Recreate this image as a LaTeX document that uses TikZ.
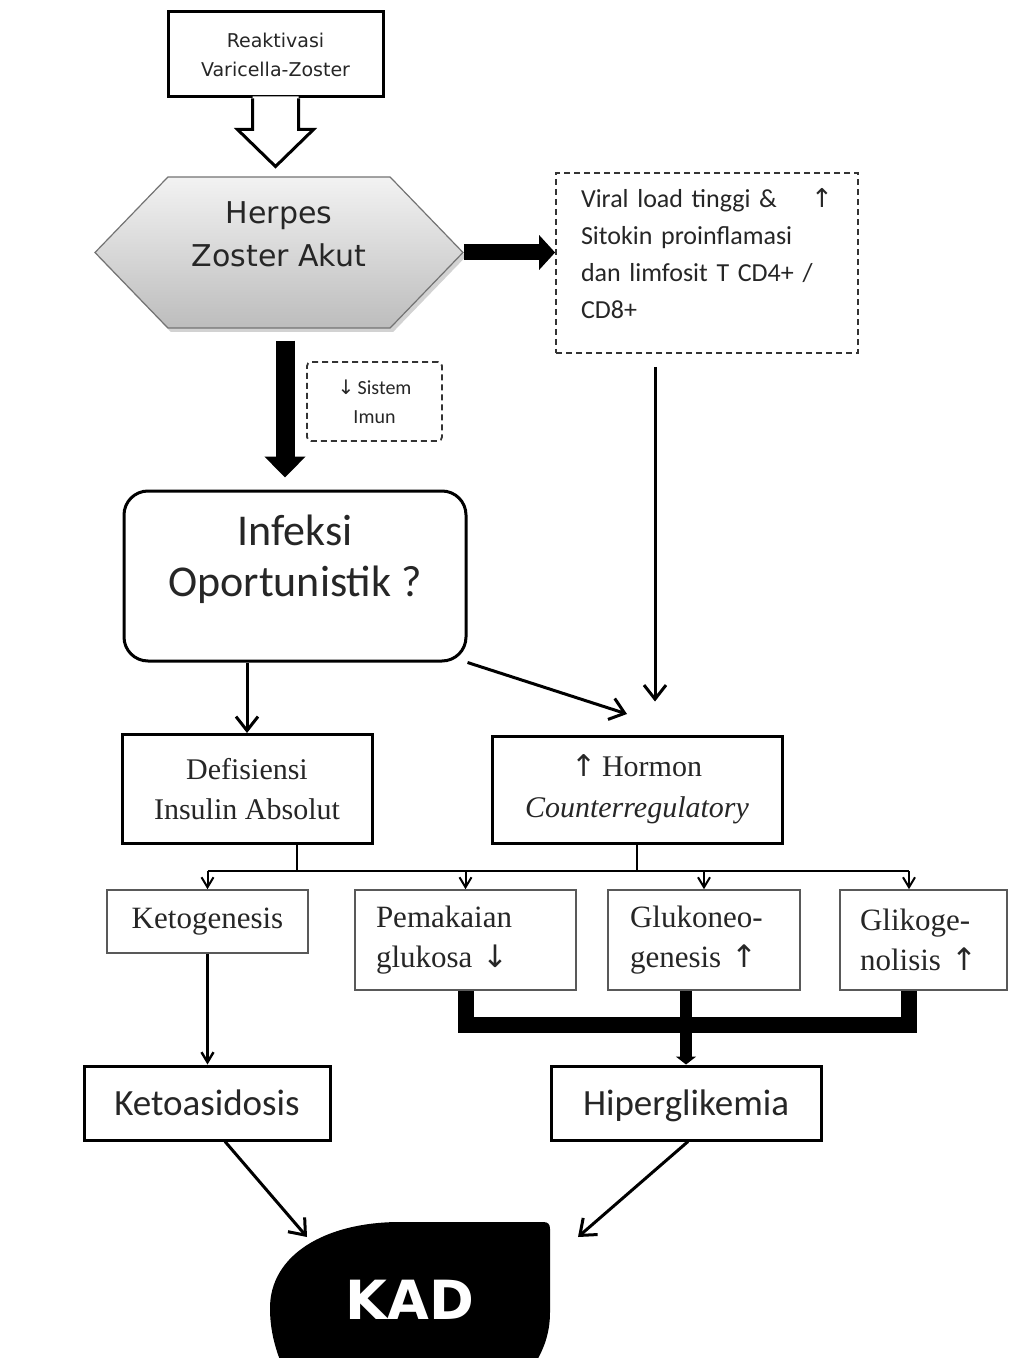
\documentclass[tikz,border=0pt]{standalone}
\usepackage{fontspec}
\setmainfont{Liberation Serif}
\newfontfamily\calibfont{Carlito}
\newfontfamily\lucfont{DejaVu Sans}
\newcommand{\upar}{{\lucfont ↑}}
\newcommand{\dnar}{{\lucfont ↓}}
\usetikzlibrary{arrows.meta,positioning,calc,shapes.symbols,shadows}
\tikzset{
  hzbox/.style={draw=black, line width=1.5pt, fill=white, align=center, inner sep=0pt, text=black!85},
  hzthin/.style={draw=black!65, line width=0.8pt, fill=white, inner sep=0pt, text=black!85,
    font=\fontsize{15.5}{20}\selectfont},
  hzdash/.style={draw=black!80, line width=0.9pt, dash pattern=on 3pt off 2pt, fill=white, text=black!85},
  hzline/.style={-{Straight Barb[length=7pt,width=11pt]}, line width=1.5pt},
  hzsmall/.style={-{Straight Barb[length=5pt,width=6pt]}, line width=1pt},
  hzfat/.style={-{Triangle[length=9pt,width=18pt]}, line width=8pt}
}

\begin{document}
\begin{tikzpicture}[x=0.5pt,y=-0.5pt]
  \useasboundingbox (0,0) rectangle (1014,1358);
  \clip (0,0) rectangle (1014,1358);
  \fill[white] (0,0) rectangle (1014,1358);

  % top part
  \node[hzbox, minimum width=107.5pt, minimum height=42.5pt, font=\lucfont\fontsize{9.5}{14.5}\selectfont] (reakt) at (275.5,54.5) {Reaktivasi\\Varicella-Zoster};
  \fill[white] ([xshift=-11.5pt,yshift=1pt]reakt.south) -- ++(0,32) -- ++(-15,0) -- ++(38,37) -- ++(38,-37) -- ++(-15,0) -- ++(0,-32) -- cycle;
  \draw[line width=1.5pt] ([xshift=-11.5pt]reakt.south) -- ++(0,31) -- ++(-15,0) -- ++(38,37) -- ++(38,-37) -- ++(-15,0) -- ++(0,-31);

  \node[signal, signal to=west and east, signal pointer angle=92, minimum width=184pt, minimum height=75.5pt, inner sep=0pt,
    top color=black!5, bottom color=black!26, draw=black!55, line width=0.6pt,
    drop shadow={shadow xshift=1.5pt, shadow yshift=-2pt, opacity=0.35},
    align=center, text=black!85, text depth=18pt, font=\lucfont\fontsize{15}{21.5}\selectfont] (herpes) at (279,252.5) {Herpes\\Zoster Akut};

  \node[hzdash, minimum width=151pt, minimum height=90pt, inner xsep=11pt, text width=126pt, align=left, text depth=65pt,
    font=\calibfont\fontsize{13}{18.5}\selectfont] (viral) at (707,263)
    {Viral load tinggi \& \hfill\upar\\Sitokin proinflamasi\\dan limfosit T CD4+ /\\CD8+};
  \draw[hzfat, -{Triangle[length=8pt,width=17pt]}] (herpes.east) -- (herpes.east -| viral.west);

  \node[hzdash, rounded corners=2pt, minimum width=67.5pt, minimum height=39.5pt, align=center,
    font=\calibfont\fontsize{10}{14.5}\selectfont] (imun) at (374.5,401.5) {\dnar\,Sistem\\Imun};

  % middle
  \node[hzbox, rounded corners=12pt, minimum width=171pt, minimum height=85pt, text depth=20pt,
    font=\calibfont\fontsize{22}{25.5}\selectfont] (infeksi) at (295,576) {Infeksi\\Oportunistik ?};
  \draw[-{Triangle[length=10.5pt,width=20pt]}, line width=9.5pt, shorten <=6pt, shorten >=6pt]
    ([xshift=3pt]herpes.south) -- ([xshift=3pt]herpes.south |- infeksi.north);

  \node[hzbox, minimum width=125pt, minimum height=54.5pt, font=\fontsize{15}{20}\selectfont] (defis) at (247,789) {Defisiensi\\Insulin Absolut};
  \node[hzbox, minimum width=145pt, minimum height=53.5pt, font=\fontsize{15}{20.5}\selectfont] (hormon) at (637,789.5) {\upar\,Hormon\\\textit{Counterregulatory}};

  \coordinate (hmin) at (627,714);
  \draw[hzline] (defis.north |- infeksi.south) -- (defis.north);
  \draw[hzline] (infeksi.south east) -- (hmin);
  \draw[hzline, shorten <=6.5pt, shorten >=16.5pt] (viral.south -| 655,0) -- (hormon.north -| 655,0);

  % four results
  \node[hzthin, minimum width=100.5pt, minimum height=31.5pt] (keto) at (207.5,921.5) {Ketogenesis};
  \node[hzthin, minimum width=110.5pt, minimum height=50pt, inner xsep=10.5pt, text width=89.5pt, align=left] (pemak) at (465.5,940) {Pemakaian\\glukosa \dnar};
  \node[hzthin, minimum width=96pt, minimum height=50pt, inner xsep=11pt, text width=74pt, align=left] (glukon) at (704,940) {Glukoneo-\\genesis \upar};
  \node[hzthin, minimum width=83.5pt, minimum height=50pt, inner xsep=10pt, text width=63.5pt, align=left] (glikog) at (923.5,940) {Glikoge-\\nolisis \upar};

  \coordinate (busL) at (207.5,871);
  \coordinate (busR) at (909,871);
  \draw[line width=1.2pt] ([xshift=25pt]defis.south) -- ([xshift=25pt]defis.south |- busL);
  \draw[line width=1.2pt] (hormon.south) -- (hormon.south |- busL);
  \draw[line width=1.2pt] (busL) -- (busR);
  \draw[hzsmall] (busL) -- (keto.north);
  \draw[hzsmall] (pemak.north |- busL) -- (pemak.north);
  \draw[hzsmall] (glukon.north |- busL) -- (glukon.north);
  \draw[hzsmall] (busR) -- (busR |- glikog.north);

  % bottom
  \node[hzbox, minimum width=123pt, minimum height=37pt, text height=16.5pt, text depth=4.5pt, font=\calibfont\fontsize{18.5}{22}\selectfont] (ketoa) at (207,1103) {Ketoasidosis};
  \node[hzbox, minimum width=135pt, minimum height=37pt, text height=16.5pt, text depth=4.5pt, font=\calibfont\fontsize{18.5}{22}\selectfont] (hiper) at (686,1103) {Hiperglikemia};

  \draw[hzsmall, line width=1.2pt] (keto.south) -- (keto.south |- ketoa.north);
  \draw[line width=8pt] (pemak.south) -- (pemak.south |- 0,1025) -- ([xshift=-7.25pt]glikog.south |- 0,1025) -- ([xshift=-7.25pt]glikog.south);
  \draw[line width=6pt, -{Triangle[length=4pt,width=10pt]}] (hiper.north |- glukon.south) -- (hiper.north);

  \fill[black] (400,1222) -- (543,1222) .. controls (548,1222) and (550,1224) .. (550,1229) -- (550,1312)
    .. controls (550,1335) and (543,1352) .. (530,1372) -- (285,1372)
    .. controls (275,1350) and (270,1330) .. (270,1308)
    .. controls (270,1255) and (325,1222) .. (400,1222) -- cycle;
  \node[text=white, font=\lucfont\bfseries\fontsize{27}{30}\selectfont] (kad) at (410,1300) {KAD};

  \coordinate (kadl) at (307,1237);
  \coordinate (kadr) at (578,1237);
  \draw[hzline] ([xshift=9pt]ketoa.south) -- (kadl);
  \draw[hzline] ([xshift=1pt]hiper.south) -- (kadr);
\end{tikzpicture}
\end{document}
